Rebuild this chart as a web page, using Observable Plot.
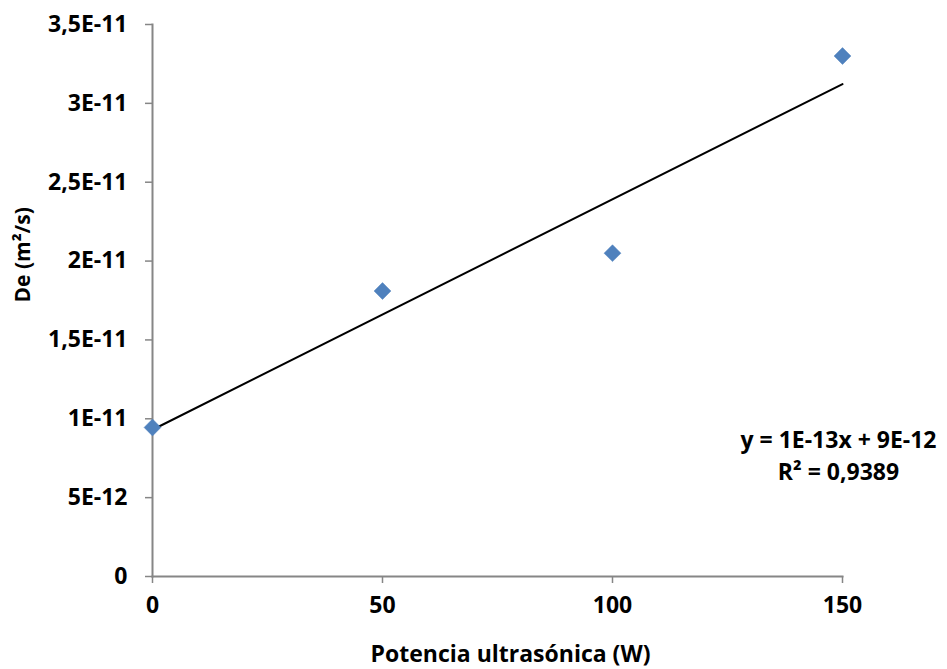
<!DOCTYPE html>
<html><head><meta charset="utf-8">
<script src="https://cdn.jsdelivr.net/npm/d3@7"></script>
<script src="https://cdn.jsdelivr.net/npm/@observablehq/plot@0.6"></script>
<style>body{margin:0;background:#fff}</style>
</head><body><div id="chart"></div>
<script>
const power = [0, 50, 100, 150];
const de = [9.45e-12, 1.81e-11, 2.05e-11, 3.30e-11];
const xTicks = [0, 50, 100, 150];
const yTicks = [0, 5e-12, 1e-11, 1.5e-11, 2e-11, 2.5e-11, 3e-11, 3.5e-11];
const yTickLabels = ["0", "5E-12", "1E-11", "1,5E-11", "2E-11", "2,5E-11", "3E-11", "3,5E-11"];
const equationText = "y = 1E-13x + 9E-12\nR² = 0,9389";
const xTitle = "Potencia ultrasónica (W)";
const yTitle = "De (m²/s)";

const data = power.map((p, i) => ({x: p, y: de[i]}));
const font = "'Open Sans', sans-serif";
const axisColor = "#868686";
const fs = 23;

const chart = Plot.plot({
  width: 947, height: 669,
  marginLeft: 152, marginRight: 105, marginTop: 24, marginBottom: 93,
  style: {fontFamily: font, fontWeight: "bold", fontSize: fs + "px", color: "#000", background: "#fff"},
  x: {domain: [0, 150]},
  y: {domain: [0, 3.5e-11]},
  marks: [
    Plot.axisX(xTicks, {tickSize: 7, tickPadding: 13, stroke: axisColor, strokeWidth: 1.5, fill: "#000", fontSize: fs, fontWeight: "bold", label: null}),
    Plot.axisY(yTicks, {tickSize: 7, tickPadding: 18, stroke: axisColor, strokeWidth: 1.5, fill: "#000", fontSize: fs, fontWeight: "bold", tickFormat: (d) => yTickLabels[yTicks.indexOf(d)], label: null}),
    Plot.frame({anchor: "left", stroke: axisColor, strokeWidth: 2}),
    Plot.frame({anchor: "bottom", stroke: axisColor, strokeWidth: 2}),
    Plot.linearRegressionY(data, {x: "x", y: "y", stroke: "#000", strokeWidth: 2, ci: 0}),
    Plot.dot(data, {x: "x", y: "y", symbol: "diamond2", r: 7.6, fill: "#4F81BD", stroke: "#4F81BD", strokeWidth: 0.5}),
    Plot.text([equationText], {frameAnchor: "top-right", dx: -4, dy: 429, textAnchor: "middle", lineAnchor: "middle", lineHeight: 1.43, fontSize: fs, fontWeight: "bold", fill: "#000"}),
    Plot.text([xTitle], {frameAnchor: "bottom", dx: 13, dy: 78, lineAnchor: "middle", fontSize: fs, fontWeight: "bold", fill: "#000"}),
    Plot.text([yTitle], {frameAnchor: "left", dx: -129, dy: 2, rotate: -90, lineAnchor: "middle", fontSize: 21, fontWeight: "bold", fill: "#000"})
  ]
});
document.getElementById("chart").appendChild(chart);
</script>
</body></html>
